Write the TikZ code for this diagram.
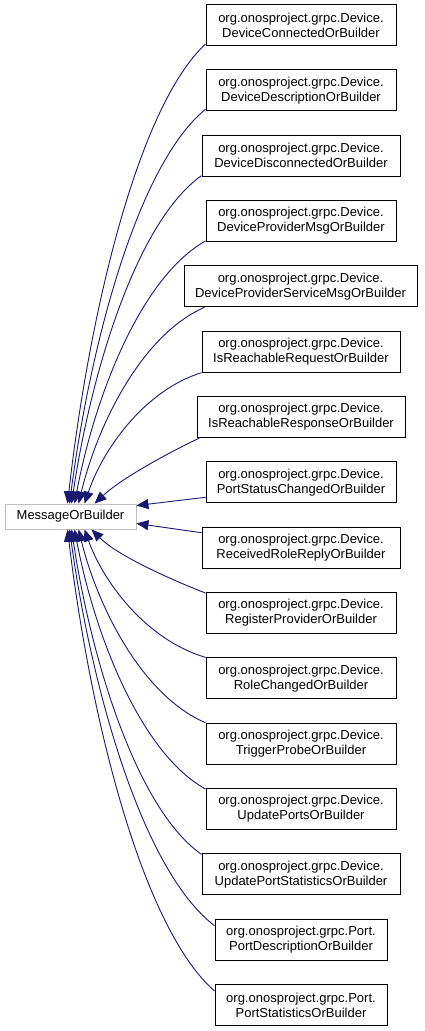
\documentclass[tikz,border=0pt]{standalone}
\usepackage{fontspec}
\setmainfont{Liberation Sans}
\usetikzlibrary{arrows.meta,calc}
\definecolor{edgeblue}{HTML}{191970}
\definecolor{basegray}{HTML}{BFBFBF}
\newcommand\curvedge[2]{\draw[edge] let \p1=(#1), \p2=(#2) in (\p1) .. controls ({\x1+0.5*(\x2-\x1)},{\y1+0.14*(\y2-\y1)}) and ({\x2+0.15*(\x1-\x2)},{\y1+0.6*(\y2-\y1)}) .. (\p2);}
\begin{document}
\begin{tikzpicture}[x=1pt,y=-1pt,
  cls/.style={draw=black,line width=0.9pt,fill=white,align=center,inner sep=0pt,
    minimum height=41pt,font=\fontsize{13}{15}\selectfont},
  basecls/.style={draw=basegray,line width=0.9pt,fill=white,inner sep=0pt,
    minimum width=131pt,minimum height=25pt,font=\fontsize{13}{15}\selectfont},
  edge/.style={draw=edgeblue,line width=0.9pt,-{Triangle[length=12pt,width=10pt]}}]
\useasboundingbox (0,0) rectangle (424,1031);
\node[basecls] (msg) at (70.5,516.5) {MessageOrBuilder};
\node[cls,minimum width=190pt] (b1) at (301,25) {org.onosproject.grpc.Device.\\DeviceConnectedOrBuilder};
\node[cls,minimum width=190pt] (b2) at (301,90.33) {org.onosproject.grpc.Device.\\DeviceDescriptionOrBuilder};
\node[cls,minimum width=198pt] (b3) at (301,155.67) {org.onosproject.grpc.Device.\\DeviceDisconnectedOrBuilder};
\node[cls,minimum width=190pt] (b4) at (301,221) {org.onosproject.grpc.Device.\\DeviceProviderMsgOrBuilder};
\node[cls,minimum width=233pt] (b5) at (300.5,286.33) {org.onosproject.grpc.Device.\\DeviceProviderServiceMsgOrBuilder};
\node[cls,minimum width=198pt] (b6) at (301,351.67) {org.onosproject.grpc.Device.\\IsReachableRequestOrBuilder};
\node[cls,minimum width=208pt] (b7) at (301,417) {org.onosproject.grpc.Device.\\IsReachableResponseOrBuilder};
\node[cls,minimum width=190pt] (b8) at (301,482.33) {org.onosproject.grpc.Device.\\PortStatusChangedOrBuilder};
\node[cls,minimum width=198pt] (b9) at (301,547.67) {org.onosproject.grpc.Device.\\ReceivedRoleReplyOrBuilder};
\node[cls,minimum width=190pt] (b10) at (301,613) {org.onosproject.grpc.Device.\\RegisterProviderOrBuilder};
\node[cls,minimum width=190pt] (b11) at (301,678.33) {org.onosproject.grpc.Device.\\RoleChangedOrBuilder};
\node[cls,minimum width=190pt] (b12) at (301,743.67) {org.onosproject.grpc.Device.\\TriggerProbeOrBuilder};
\node[cls,minimum width=190pt] (b13) at (301,809) {org.onosproject.grpc.Device.\\UpdatePortsOrBuilder};
\node[cls,minimum width=198pt] (b14) at (301,874.33) {org.onosproject.grpc.Device.\\UpdatePortStatisticsOrBuilder};
\node[cls,minimum width=172pt] (b15) at (301,939.67) {org.onosproject.grpc.Port.\\PortDescriptionOrBuilder};
\node[cls,minimum width=172pt] (b16) at (301,1005) {org.onosproject.grpc.Port.\\PortStatisticsOrBuilder};
% upper curved connectors
\curvedge{[yshift=2pt]b1.south west}{[xshift=63pt]msg.north west}
\curvedge{[yshift=2pt]b2.south west}{[xshift=65pt]msg.north west}
\curvedge{[yshift=1pt]b3.south west}{[xshift=67pt]msg.north west}
\curvedge{[yshift=1pt]b4.south west}{[xshift=70pt]msg.north west}
\curvedge{[xshift=21pt]b5.south west}{[xshift=74pt]msg.north west}
\curvedge{[yshift=0pt]b6.south west}{[xshift=80pt]msg.north west}
\draw[edge] ([xshift=3pt]b7.south west) .. controls (168,453) and (122,478) .. ([xshift=90pt]msg.north west);
% straight connectors
\draw[edge] ([yshift=6pt]b8.south west) -- ([yshift=-2pt]msg.north east);
\draw[edge] ([yshift=-6pt]b9.north west) -- ([yshift=6pt]msg.south east);
% lower curved connectors
\draw[edge] ([yshift=-1pt]b10.north west) .. controls (172,580) and (118,556) .. ([xshift=87pt]msg.south west);
\curvedge{[yshift=0pt]b11.north west}{[xshift=80pt]msg.south west}
\curvedge{[yshift=0pt]b12.north west}{[xshift=74pt]msg.south west}
\curvedge{[yshift=-1pt]b13.north west}{[xshift=70pt]msg.south west}
\curvedge{[yshift=-1pt]b14.north west}{[xshift=67pt]msg.south west}
\curvedge{[yshift=-7pt]b15.north west}{[xshift=65pt]msg.south west}
\curvedge{[yshift=-7pt]b16.north west}{[xshift=63pt]msg.south west}
\end{tikzpicture}
\end{document}
